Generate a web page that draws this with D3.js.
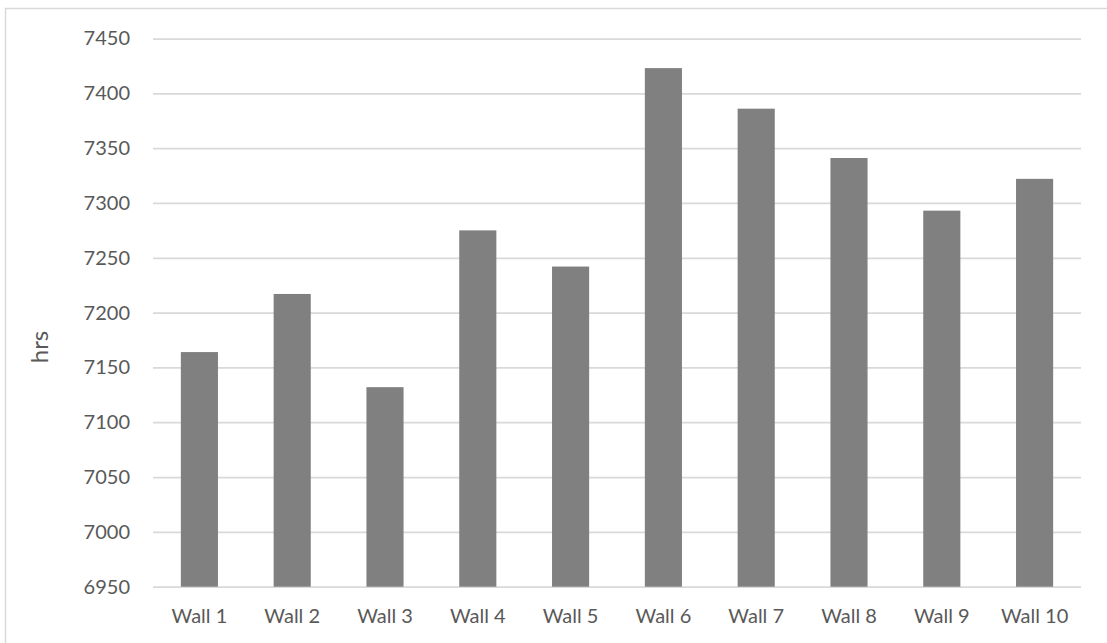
<!DOCTYPE html>
<html>
<head>
<meta charset="utf-8">
<script src="https://cdn.jsdelivr.net/npm/d3@7"></script>
<style>
  html, body { margin: 0; padding: 0; background: #fff; }
  svg { display: block; }
</style>
</head>
<body>
<svg id="chart" width="1107" height="643"></svg>
<script>
const categories = ["Wall 1","Wall 2","Wall 3","Wall 4","Wall 5","Wall 6","Wall 7","Wall 8","Wall 9","Wall 10"];
const values = [7164, 7217, 7132, 7275, 7242, 7423, 7386, 7341, 7293, 7322];
const yTicks = [6950, 7000, 7050, 7100, 7150, 7200, 7250, 7300, 7350, 7400, 7450];
const yLabel = "hrs";

(function () {
const svg = d3.select("#chart");
const W = 1107, H = 643;
const pLeft = 153, pRight = 1081, pTop = 38.5, pBottom = 586.7;
const textColor = "#595959";
const font = "Lato, 'Open Sans', sans-serif";

// outer chart border
svg.append("rect")
  .attr("x", 5.5).attr("y", 8.5)
  .attr("width", W + 10).attr("height", H + 10)
  .attr("fill", "#fff").attr("stroke", "#d9d9d9").attr("stroke-width", 1.5);

const x = d3.scaleBand().domain(categories).range([pLeft, pRight]).paddingInner(0.6).paddingOuter(0.3);
const y = d3.scaleLinear().domain([6950, 7450]).range([pBottom, pTop]);

// gridlines
const yAxis = d3.axisLeft(y).tickValues(yTicks).tickSize(-(pRight - pLeft)).tickPadding(23).tickFormat(d3.format("d"));
const gy = svg.append("g").attr("transform", `translate(${pLeft},0)`).call(yAxis);
gy.select(".domain").remove();
gy.selectAll(".tick line").attr("stroke", "#d9d9d9").attr("stroke-width", 1.75);
gy.selectAll(".tick text").attr("fill", textColor).attr("font-family", font).attr("font-size", 20);

// bars
svg.append("g").selectAll("rect").data(values).join("rect")
  .attr("x", (d, i) => x(categories[i]))
  .attr("width", x.bandwidth())
  .attr("y", d => y(d))
  .attr("height", d => y(6950) - y(d))
  .attr("fill", "#808080");

// x axis
const xAxis = d3.axisBottom(x).tickSize(0).tickPadding(22);
const gx = svg.append("g").attr("transform", `translate(0,${pBottom})`).call(xAxis);
gx.select(".domain").remove();
gx.selectAll(".tick text").attr("fill", textColor).attr("font-family", font).attr("font-size", 20);

// y label
svg.append("text")
  .attr("transform", `translate(42,347) rotate(-90)`)
  .attr("text-anchor", "middle")
  .attr("dominant-baseline", "middle")
  .attr("fill", textColor).attr("font-family", font).attr("font-size", 24)
  .text(yLabel);
})();
</script>
</body>
</html>
